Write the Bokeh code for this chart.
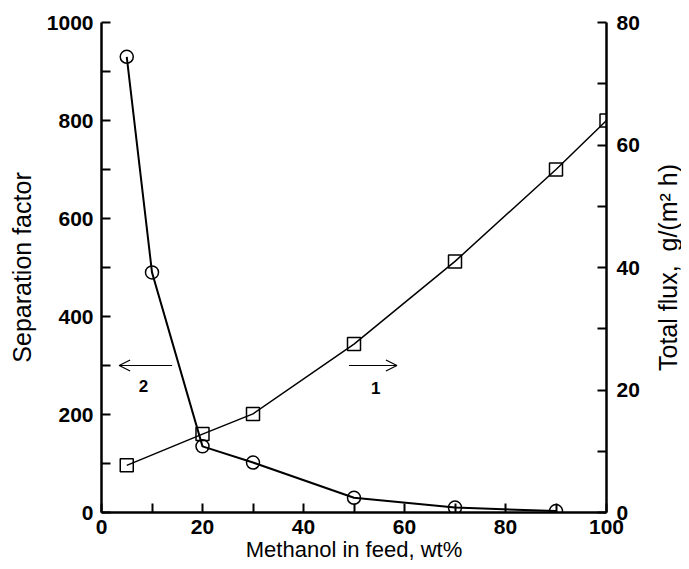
import math
from bokeh.plotting import figure
from bokeh.layouts import row
from bokeh.models import Range1d, LinearAxis, FixedTicker, Arrow, OpenHead, ColumnDataSource
from bokeh.core.properties import value
from bokeh.embed import file_html
from bokeh.resources import INLINE

# Data
methanol_sep = [5, 10, 20, 30, 50, 70, 90]
separation_factor = [930, 490, 135, 102, 30, 10, 3]
methanol_flux = [5, 20, 30, 50, 70, 90, 100]
total_flux = [7.7, 12.8, 16.1, 27.5, 41.0, 56.0, 64.0]

x_ticks = [0, 20, 40, 60, 80, 100]
x_minor = [10, 30, 50, 70, 90]
yl_ticks = [0, 200, 400, 600, 800, 1000]
yl_minor = [100, 300, 500, 700, 900]
yr_ticks = [0, 20, 40, 60, 80]
yr_minor = [10, 30, 50, 70]

# annotation anchors (data units)
arrow2 = (14, 3.5, 300)
arrow1 = (49, 58.5, 300)
label_x = [8.3, 54.3]
label_y = [258, 255]
label_text = ["2", "1"]
right_label = ["Total flux,\u00a0 g/(m\u00b2 h)"]
right_label_x = [0.62]
right_label_y = [500]

FONT = "Liberation Sans"

p = figure(frame_width=505, frame_height=490, x_range=Range1d(0, 100), y_range=Range1d(0, 1000),
           output_backend="svg", toolbar_location=None,
           min_border_left=101, min_border_right=40, min_border_top=22, min_border_bottom=45)
p.outline_line_color = None
p.xgrid.visible = False
p.ygrid.visible = False
p.extra_y_ranges = {"flux": Range1d(0, 80)}

la = p.yaxis[0]
p.xaxis.ticker = FixedTicker(ticks=x_ticks, minor_ticks=x_minor)
la.ticker = FixedTicker(ticks=yl_ticks, minor_ticks=yl_minor)
ra = LinearAxis(y_range_name="flux", ticker=FixedTicker(ticks=yr_ticks, minor_ticks=yr_minor))
p.add_layout(ra, "right")

p.xaxis[0].axis_label = "Methanol in feed, wt%"
la.axis_label = "Separation factor"

for ax in [p.xaxis[0], la, ra]:
    ax.axis_line_width = 2.5
    ax.axis_line_color = "black"
    ax.major_tick_in = 9
    ax.major_tick_out = 0
    ax.minor_tick_in = 9
    ax.minor_tick_out = 0
    ax.major_tick_line_width = 2
    ax.minor_tick_line_width = 2
    ax.major_tick_line_color = "black"
    ax.minor_tick_line_color = "black"
    ax.major_label_text_font = FONT
    ax.major_label_text_font_style = "bold"
    ax.major_label_text_font_size = "21px"
    ax.major_label_text_color = "black"
    ax.axis_label_text_font = FONT
    ax.axis_label_text_font_style = "normal"
    ax.axis_label_text_font_size = "22px"
    ax.axis_label_text_color = "black"

la.axis_label_text_font_size = "25px"

p.xaxis.major_label_standoff = 7
p.xaxis.axis_label_standoff = 0
la.major_label_standoff = 8
la.axis_label_standoff = 8
ra.major_label_standoff = 10

p.line(methanol_sep, separation_factor, line_color="black", line_width=2)
p.scatter(methanol_sep, separation_factor, marker="circle", size=13, fill_color=None,
          line_color="black", line_width=1.5)
p.line(methanol_flux, total_flux, line_color="black", line_width=1.5, y_range_name="flux")
p.scatter(methanol_flux, total_flux, marker="square", size=13, fill_color=None,
          line_color="black", line_width=1.5, y_range_name="flux")

p.add_layout(Arrow(end=OpenHead(size=11, line_width=1.2), x_start=arrow2[0], x_end=arrow2[1],
                   y_start=arrow2[2], y_end=arrow2[2], line_width=1.2))
p.add_layout(Arrow(end=OpenHead(size=11, line_width=1.2), x_start=arrow1[0], x_end=arrow1[1],
                   y_start=arrow1[2], y_end=arrow1[2], line_width=1.2))

src = ColumnDataSource(dict(x=label_x, y=label_y, t=label_text))
p.text(x="x", y="y", text="t", source=src, text_font=value(FONT), text_font_style="bold",
       text_font_size="17px", text_align="center", text_baseline="middle", text_color="black")

# right-hand axis title, reading bottom to top, in a narrow companion panel
side = figure(frame_width=35, frame_height=490, x_range=Range1d(0, 1), y_range=p.y_range,
              x_axis_type=None, y_axis_type=None, output_backend="svg", toolbar_location=None,
              min_border_left=0, min_border_right=0, min_border_top=22, min_border_bottom=45)
side.outline_line_color = None
side.xgrid.visible = False
side.ygrid.visible = False
side.text(x=right_label_x, y=right_label_y, text=right_label, angle=math.pi / 2,
          text_font=value(FONT), text_font_size="25px", text_align="center",
          text_baseline="middle", text_color="black")

layout = row(p, side, spacing=0)
open("out.html", "w").write(file_html(layout, INLINE))
